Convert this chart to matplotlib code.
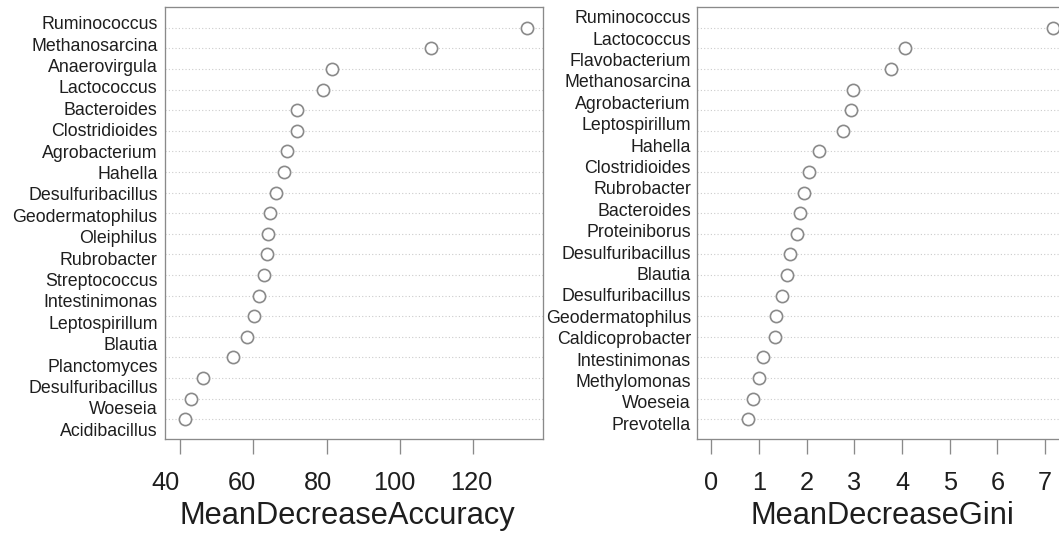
import matplotlib
matplotlib.use("Agg")
import matplotlib.pyplot as plt
import numpy as np

plt.rcParams['font.family'] = ['Liberation Sans', 'DejaVu Sans']

# ---------------- data (top to bottom as shown) ----------------
acc_names = ["Ruminococcus", "Methanosarcina", "Anaerovirgula", "Lactococcus",
             "Bacteroides", "Clostridioides", "Agrobacterium", "Hahella",
             "Desulfuribacillus", "Geodermatophilus", "Oleiphilus", "Rubrobacter",
             "Streptococcus", "Intestinimonas", "Leptospirillum", "Blautia",
             "Planctomyces", "Desulfuribacillus", "Woeseia", "Acidibacillus"]
acc_values = [134.7, 108.4, 81.6, 79.0, 72.0, 71.8, 69.2, 68.3, 66.1, 64.6,
              63.9, 63.7, 62.8, 61.5, 60.3, 58.4, 54.5, 46.2, 43.1, 41.4]

gini_names = ["Ruminococcus", "Lactococcus", "Flavobacterium", "Methanosarcina",
              "Agrobacterium", "Leptospirillum", "Hahella", "Clostridioides",
              "Rubrobacter", "Bacteroides", "Proteiniborus", "Desulfuribacillus",
              "Blautia", "Desulfuribacillus", "Geodermatophilus", "Caldicoprobacter",
              "Intestinimonas", "Methylomonas", "Woeseia", "Prevotella"]
gini_values = [7.16, 4.07, 3.76, 2.97, 2.93, 2.77, 2.25, 2.05, 1.95, 1.86,
               1.80, 1.66, 1.58, 1.49, 1.35, 1.34, 1.08, 0.99, 0.87, 0.77]

acc_ticks = [40, 60, 80, 100, 120]
gini_ticks = [0, 1, 2, 3, 4, 5, 6, 7]

# ---------------- layout ----------------
W, H = 1059, 536
fig = plt.figure(figsize=(W / 100, H / 100), dpi=100)

GRAY = '#8a8a8a'
TXT = '#1e1e1e'


def rect(l, t, r, b):
    return [l / W, 1 - b / H, (r - l) / W, (b - t) / H]


def panel(rc, names, values, xlim, ticks, xlabel, lab_xlim, lab_ylim,
          label_x, ypad, tag):
    n = len(names)
    y = np.arange(n, 0, -1)
    ax = fig.add_axes(rc, label=tag + "main")
    for yy in y:
        ax.axhline(yy, color='#cccccc', lw=0.8, ls=(0, (1, 2)), zorder=1)
    ax.plot(values, y, 'o', mfc='white', mec=GRAY, ms=8.8, mew=1.2,
            zorder=3, clip_on=False)
    ax.set_xlim(*xlim)
    ax.set_ylim(0.05, 21.0)
    ax.set_xticks(ticks)
    ax.set_xticklabels([])
    ax.set_yticks([])
    ax.tick_params(axis='x', length=10.8, width=0.95, color=GRAY,
                   direction='out')
    for s in ax.spines.values():
        s.set_color(GRAY)
        s.set_linewidth(0.95)

    ov = fig.add_axes(rc, label=tag + "labels")
    ov.patch.set_visible(False)
    for s in ov.spines.values():
        s.set_visible(False)
    ov.set_xlim(*lab_xlim)
    ov.set_ylim(*lab_ylim)
    ov.set_xticks(ticks)
    ov.set_xticklabels([str(t) for t in ticks], fontsize=18.3, color=TXT)
    ov.set_yticks(y)
    ov.set_yticklabels(names, fontsize=12.8, color=TXT)
    ov.tick_params(axis='x', length=0, pad=23.0)
    ov.tick_params(axis='y', length=0, pad=ypad)
    ov.set_xlabel(xlabel, fontsize=22.2, color=TXT)
    ov.xaxis.label.set_va('baseline')
    ov.xaxis.set_label_coords(label_x, -0.1977)
    return ax


panel(rect(165.3, 7.3, 543.3, 438.7), acc_names, acc_values,
      (36.0, 139.1), acc_ticks, "MeanDecreaseAccuracy",
      (40.08, 138.84), (0.556, 20.72), 0.4815, 5.6, "L")

panel(rect(697.3, 7.3, 1066.0, 438.7), gini_names, gini_values,
      (-0.294, 7.441), gini_ticks, "MeanDecreaseGini",
      (-0.294, 7.441), (0.28, 20.44), 0.501, 4.6, "R")

fig.savefig("out.png", dpi=100)
